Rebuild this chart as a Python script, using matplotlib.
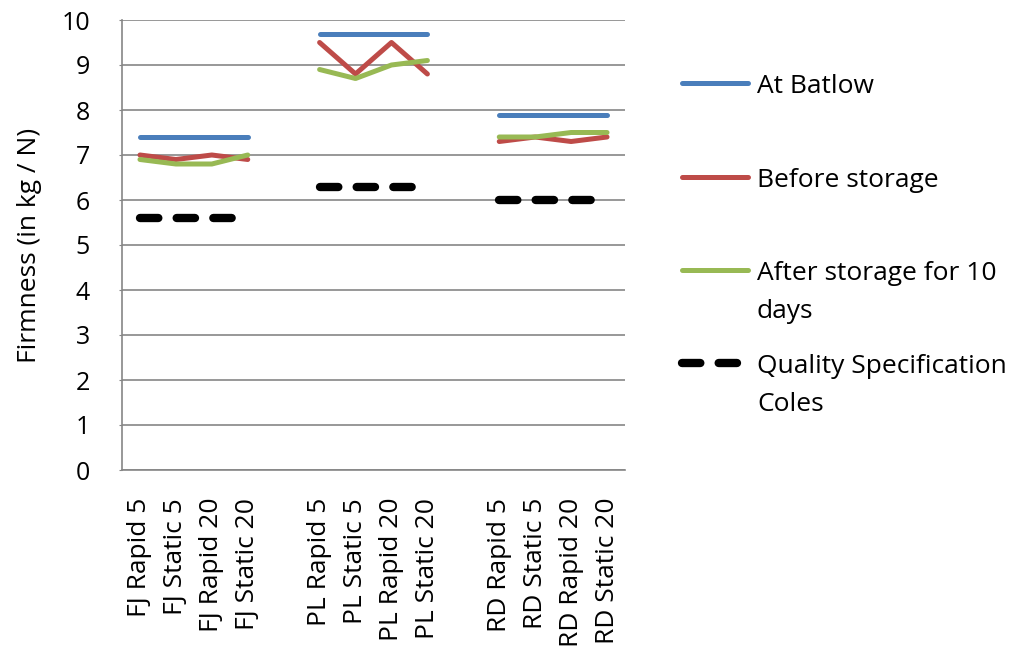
import matplotlib

matplotlib.use("Agg")
import matplotlib.pyplot as plt
from matplotlib.lines import Line2D

plt.rcParams["font.family"] = ["Open Sans", "DejaVu Sans"]

# three cultivars, four storage treatments each
groups = ["FJ", "PL", "RD"]
treatments = ["Rapid 5", "Static 5", "Rapid 20", "Static 20"]

at_batlow = [7.4, 9.7, 7.9]
quality_spec = [5.6, 6.3, 6.0]
before_storage = [
    [7.0, 6.9, 7.0, 6.9],
    [9.5, 8.8, 9.5, 8.8],
    [7.3, 7.4, 7.3, 7.4],
]
after_storage = [
    [6.9, 6.8, 6.8, 7.0],
    [8.9, 8.7, 9.0, 9.1],
    [7.4, 7.4, 7.5, 7.5],
]

W, H = 1031, 658
GRID = "#868686"
FS = 19

styles = {
    "At Batlow": dict(color="#4a7ebb", lw=3.6, solid_capstyle="round"),
    "Before storage": dict(color="#be4b48", lw=3.6, solid_capstyle="round",
                           solid_joinstyle="round"),
    "After storage for 10\ndays": dict(color="#98b954", lw=3.6,
                                       solid_capstyle="round",
                                       solid_joinstyle="round"),
    "Quality Specification\nColes": dict(color="black", lw=6, dashes=(2.2, 2.2),
                                         dash_capstyle="round"),
}
names = list(styles)

fig = plt.figure(figsize=(W / 100, H / 100), dpi=100)
ax = fig.add_axes([122 / W, 1 - 470 / H, 503 / W, 450 / H])

ticks, labels = [], []
for g, name in enumerate(groups):
    xs = [g * 5 + i for i in range(len(treatments))]
    ticks += xs
    labels += [f"{name} {t}" for t in treatments]
    ax.plot(xs, [at_batlow[g]] * len(xs), zorder=3, **styles[names[0]])
    ax.plot(xs, before_storage[g], zorder=3, **styles[names[1]])
    ax.plot(xs, after_storage[g], zorder=3, **styles[names[2]])
    ax.plot(xs, [quality_spec[g]] * len(xs), zorder=3, **styles[names[3]])

ax.set_xlim(-0.5, 13.5)
ax.set_ylim(0, 10)
ax.set_yticks(range(0, 11))
ax.set_xticks(ticks)
ax.set_xticklabels(labels, rotation=90, fontsize=FS)
ax.tick_params(axis="x", length=0, pad=20)
ax.tick_params(axis="y", length=2, color=GRID, labelsize=18, pad=21)
ax.grid(axis="y", color=GRID, lw=1.2)
ax.set_axisbelow(True)
for side in ("top", "right"):
    ax.spines[side].set_visible(False)
for side in ("left", "bottom"):
    ax.spines[side].set_color(GRID)
    ax.spines[side].set_linewidth(1.2)
ax.set_ylabel("Firmness (in kg / N)", fontsize=FS, labelpad=14)

# legend laid out like the Excel original: handle level with the first text line
baselines = [93, 187, 280, 373]
line_gap = 38
for name, base in zip(names, baselines):
    yh = 1 - (base - 10) / H
    fig.add_artist(Line2D([682 / W, 748 / W], [yh, yh],
                          transform=fig.transFigure, **styles[name]))
    for k, line in enumerate(name.split("\n")):
        fig.text(757 / W, 1 - (base + k * line_gap) / H, line, fontsize=FS,
                 va="baseline", ha="left")

fig.savefig("out.png", dpi=100)
